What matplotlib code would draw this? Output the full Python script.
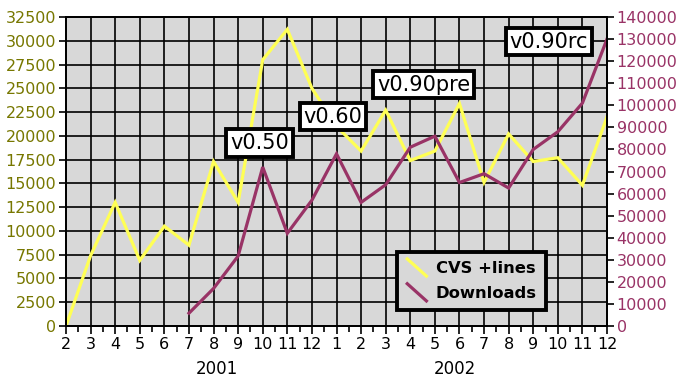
import numpy as np
import matplotlib
matplotlib.use("Agg")
import matplotlib.pyplot as plt
from matplotlib.lines import Line2D
from matplotlib.legend_handler import HandlerBase

# місяці: 2001 (2..12) та 2002 (1..12)
months = [2, 3, 4, 5, 6, 7, 8, 9, 10, 11, 12,
          1, 2, 3, 4, 5, 6, 7, 8, 9, 10, 11, 12]
years = ["2001", "2002"]

# рядки в CVS (ліва вісь)
cvs_lines = [0, 7400, 13000, 6900, 10500, 8500, 17300, 13000, 28000, 31200, 25000,
             21000, 18400, 22700, 17400, 18400, 23400, 15100, 20200, 17300, 17700, 14800, 22000]

# завантаження (права вісь), починаються з липня 2001
downloads = [np.nan, np.nan, np.nan, np.nan, np.nan,
             5800, 17000, 31700, 72000, 42000, 57000,
             78000, 56000, 64000, 81000, 86000, 65000, 69000, 62500, 80000, 88000, 101000, 130000]

# релізи: (назва, позиція по x, значення по лівій осі)
releases = ["v0.50", "v0.60", "v0.90pre", "v0.90rc"]
release_x = [7.87, 10.85, 14.55, 19.63]
release_y = [19250, 22030, 25400, 29920]

yellow = "#ffff55"
plum = "#993366"
olive = "#777700"


class DiagHandler(HandlerBase):
    # діагональна лінія в легенді, як в Excel
    def create_artists(self, legend, orig_handle, xdescent, ydescent,
                       width, height, fontsize, trans):
        ln = Line2D([-xdescent + 0.05 * width, -xdescent + 0.95 * width],
                    [-ydescent + 1.25 * height, -ydescent - 0.25 * height],
                    color=orig_handle.get_color(), lw=orig_handle.get_linewidth(),
                    transform=trans)
        return [ln]


fig = plt.figure(figsize=(6.8, 3.84), dpi=100)
ax = fig.add_axes([66 / 680, 58 / 384, 541 / 680, 309 / 384])
ax2 = ax.twinx()

x = np.arange(len(months))

ax.set_facecolor("#d8d8d8")
ax.plot(x, cvs_lines, color=yellow, lw=2.3, solid_joinstyle="miter")
ax2.plot(x, downloads, color=plum, lw=2.3, solid_joinstyle="miter")

ax.set_xlim(0, len(months) - 1)
ax.set_ylim(0, 32500)
ax2.set_ylim(0, 140000)

ax.set_xticks(x)
ax.set_xticklabels([str(m) for m in months])
ax.set_xticks(x[:-1] + 0.5, minor=True)
ax.set_yticks(np.arange(0, 32501, 2500))
ax2.set_yticks(np.arange(0, 140001, 10000))

ax.grid(True, which="major", color="black", lw=1.2)
ax.set_axisbelow(True)

ax.tick_params(axis="x", which="major", direction="out", length=6, width=1.2,
               labelsize=11.5, pad=2, colors="black")
ax.tick_params(axis="x", which="minor", direction="out", length=4, width=1.2)
ax.tick_params(axis="y", direction="out", length=5, width=1.2,
               labelsize=11.5, labelcolor=olive, pad=2)
ax2.tick_params(axis="y", direction="out", length=5, width=1.2,
                labelsize=11.5, labelcolor=plum, pad=2)

for a in (ax, ax2):
    for s in a.spines.values():
        s.set_linewidth(1.4)
        s.set_color("black")

# підписи років
ax.text(6.14, -0.14, years[0], transform=ax.get_xaxis_transform(),
        ha="center", va="center", fontsize=12)
ax.text(15.8, -0.14, years[1], transform=ax.get_xaxis_transform(),
        ha="center", va="center", fontsize=12)

# позначки релізів
for name, rx, ry in zip(releases, release_x, release_y):
    ax2.text(rx, ry / 32500 * 140000, name, ha="center", va="center", fontsize=15,
             bbox=dict(boxstyle="square,pad=0.18", fc="white", ec="black", lw=2.8),
             zorder=5)

handles = [Line2D([], [], color=yellow, lw=2.3), Line2D([], [], color=plum, lw=2.3)]
leg = ax2.legend(handles, ["CVS +lines", "Downloads"], loc="lower left",
                 bbox_to_anchor=(0.597, 0.025), fancybox=False, framealpha=1,
                 facecolor="#d8d8d8", edgecolor="black", handlelength=1.3,
                 handletextpad=0.5, borderpad=0.55, labelspacing=0.6,
                 prop={"weight": "bold", "size": 11.8},
                 handler_map={Line2D: DiagHandler()})
leg.get_frame().set_linewidth(2.8)
leg.set_zorder(6)

fig.savefig("out.png", dpi=100)
